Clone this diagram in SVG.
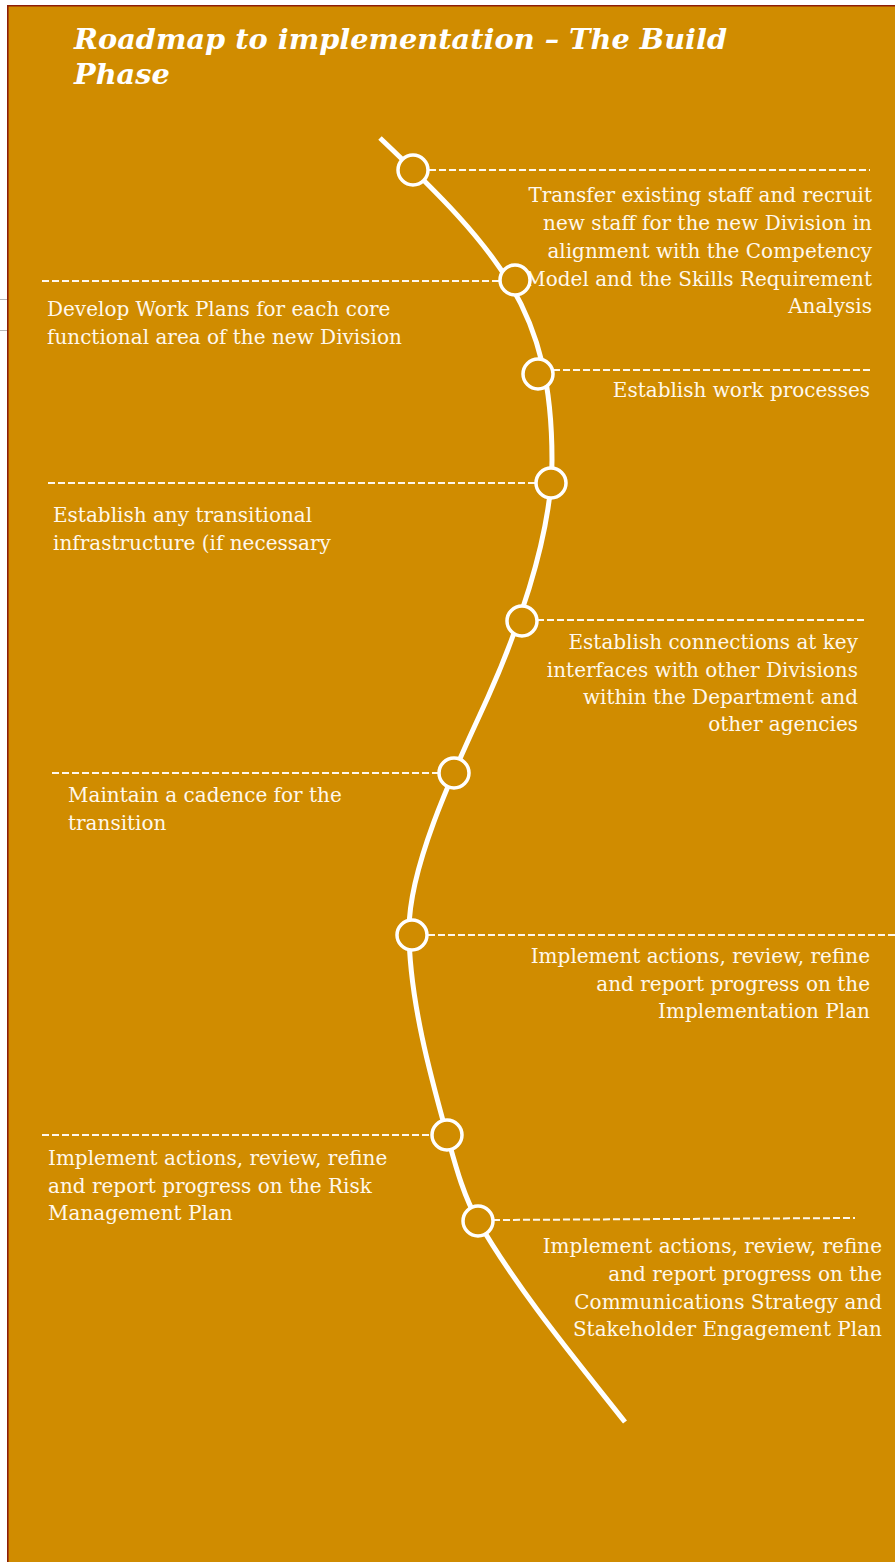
<svg xmlns="http://www.w3.org/2000/svg" width="895" height="1562" viewBox="0 0 895 1562">
  <defs>
    <style>
      .panel { fill: #D08C00; }
      .edge { stroke: #8E1E08; stroke-width: 1.6; fill: none; }
      .rule { stroke: #B8B8B8; stroke-width: 1; }
      .title { font-family: "DejaVu Serif", "Liberation Serif", serif; font-weight: bold; font-style: italic; font-size: 28.8px; fill: #FFFFFF; }
      .label { font-family: "DejaVu Serif", "Liberation Serif", serif; font-size: 20px; fill: #FFF8EC; }
      .end { text-anchor: end; }
      .path { stroke: #FFFFFF; stroke-width: 5; fill: none; stroke-linecap: butt; }
      .leader { stroke: #FFF8EC; stroke-width: 2; stroke-dasharray: 7 3; fill: none; }
      .stop { fill: #D08C00; stroke: #FFFFFF; stroke-width: 3.5; }
    </style>
  </defs>

  <!-- page margin rules -->
  <line class="rule" x1="0" y1="299.5" x2="7" y2="299.5"/>
  <line class="rule" x1="0" y1="330.5" x2="7" y2="330.5"/>

  <!-- background panel -->
  <rect class="panel" x="8" y="5" width="887" height="1557"/>
  <polyline class="edge" points="7.8,1562 7.8,5.8 895,5.8"/>

  <!-- heading -->
  <g id="title">
    <text class="title" x="74" y="49">Roadmap to implementation – The Build</text>
    <text class="title" x="74" y="84">Phase</text>
  </g>

  <!-- connectors: the winding road and the dashed leaders -->
  <g id="connectors">
    <path class="path" d="M380,138 C500,252 552,310 552,460 C552,540 512.6,642.4 488,697 C463.4,751.6 409,860 409,930 C409,1000 432.2,1082 447,1135 C455.1,1163.9 463,1195 478,1221 C518,1290.3 575.4,1359.2 625,1422"/>
    <line class="leader" x1="429" y1="170" x2="870" y2="170"/>
    <line class="leader" x1="42" y1="281" x2="500" y2="281"/>
    <line class="leader" x1="553" y1="370" x2="870" y2="370"/>
    <line class="leader" x1="48" y1="483" x2="536" y2="483"/>
    <line class="leader" x1="537" y1="620" x2="865" y2="620"/>
    <line class="leader" x1="52" y1="773" x2="439" y2="773"/>
    <line class="leader" x1="428" y1="935" x2="895" y2="935"/>
    <line class="leader" x1="42" y1="1135" x2="432" y2="1135"/>
    <line class="leader" x1="493" y1="1220" x2="855" y2="1218"/>
  </g>

  <!-- milestones -->
  <g id="step1">
    <circle class="stop" cx="413" cy="170" r="15"/>
    <text class="label end" x="872" y="201.5">Transfer existing staff and recruit</text>
    <text class="label end" x="872" y="229.5">new staff for the new Division in</text>
    <text class="label end" x="872" y="257.5">alignment with the Competency</text>
    <text class="label end" x="872" y="285.5">Model and the Skills Requirement</text>
    <text class="label end" x="872" y="313">Analysis</text>
  </g>
  <g id="step2">
    <circle class="stop" cx="515" cy="280" r="15"/>
    <text class="label" x="47" y="316">Develop Work Plans for each core</text>
    <text class="label" x="47" y="344">functional area of the new Division</text>
  </g>
  <g id="step3">
    <circle class="stop" cx="538" cy="374" r="15"/>
    <text class="label end" x="870" y="397">Establish work processes</text>
  </g>
  <g id="step4">
    <circle class="stop" cx="551" cy="483" r="15"/>
    <text class="label" x="53" y="522">Establish any transitional</text>
    <text class="label" x="53" y="550">infrastructure (if necessary</text>
  </g>
  <g id="step5">
    <circle class="stop" cx="522" cy="621" r="15"/>
    <text class="label end" x="858" y="648.5">Establish connections at key</text>
    <text class="label end" x="858" y="676.5">interfaces with other Divisions</text>
    <text class="label end" x="858" y="703.5">within the Department and</text>
    <text class="label end" x="858" y="731">other agencies</text>
  </g>
  <g id="step6">
    <circle class="stop" cx="454" cy="773" r="15"/>
    <text class="label" x="68" y="802">Maintain a cadence for the</text>
    <text class="label" x="68" y="830">transition</text>
  </g>
  <g id="step7">
    <circle class="stop" cx="412" cy="935" r="15"/>
    <text class="label end" x="870" y="963">Implement actions, review, refine</text>
    <text class="label end" x="870" y="991">and report progress on the</text>
    <text class="label end" x="870" y="1017.5">Implementation Plan</text>
  </g>
  <g id="step8">
    <circle class="stop" cx="447" cy="1135" r="15"/>
    <text class="label" x="48" y="1165">Implement actions, review, refine</text>
    <text class="label" x="48" y="1192.5">and report progress on the Risk</text>
    <text class="label" x="48" y="1220">Management Plan</text>
  </g>
  <g id="step9">
    <circle class="stop" cx="478" cy="1221" r="15"/>
    <text class="label end" x="882" y="1253">Implement actions, review, refine</text>
    <text class="label end" x="882" y="1281">and report progress on the</text>
    <text class="label end" x="882" y="1308.5">Communications Strategy and</text>
    <text class="label end" x="882" y="1336">Stakeholder Engagement Plan</text>
  </g>
</svg>
